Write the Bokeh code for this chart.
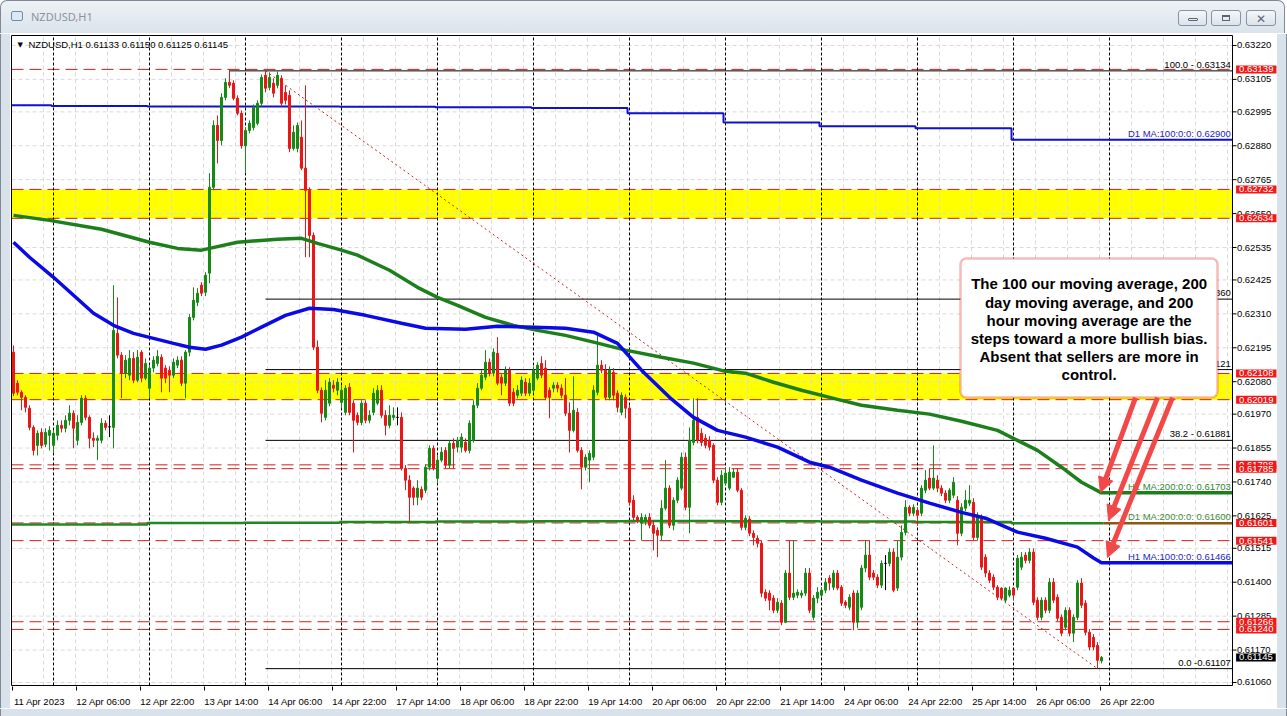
from bokeh.plotting import figure
from bokeh.models import (Range1d, FixedTicker, BoxAnnotation, Label, Arrow, NormalHead, Div)
from bokeh.layouts import column, row
from bokeh.core.properties import value
from bokeh.embed import file_html
from bokeh.resources import INLINE

PT = 1e-5  # prices below are stored in points (1e-5)

# ---------------- data (NZDUSD H1, 11 Apr 14:00 .. 26 Apr 22:00) ----------------
opens_pts = [
    62180, 62075, 62044, 62027, 61990, 61925, 61864, 61908, 61868, 61898,
    61864, 61898, 61932, 61922, 61949, 61973, 61881, 61942, 62024, 61959,
    61888, 61881, 61881, 61939, 61927, 61925, 62244, 62170, 62109, 62102,
    62159, 62085, 62180, 62092, 62058, 62126, 62142, 62163, 62126, 62119,
    62102, 62136, 62153, 62075, 62180, 62298, 62349, 62407, 62383, 62448,
    62739, 62949, 62898, 63044, 63095, 63092, 63041, 62990, 62880, 62932,
    62942, 62956, 63024, 63119, 63078, 63092, 63085, 63109, 63061, 63051,
    62871, 62871, 62909, 62804, 62729, 62576, 62197, 62051, 61959, 62007,
    62068, 62051, 62010, 61976, 62061, 62007, 61966, 61942, 62007, 61949,
    61976, 62007, 62051, 61966, 61932, 61959, 61959, 61959, 61786, 61746,
    61719, 61688, 61715, 61712, 61790, 61854, 61752, 61814, 61847, 61797,
    61871, 61858, 61858, 61874, 61847, 61881, 62000, 62058, 62095, 62146,
    62109, 62176, 62095, 62075, 62119, 62044, 62034, 62041, 62078, 62041,
    62051, 62092, 62142, 62126, 62051, 62058, 62068, 62058, 62034, 61973,
    61915, 61976, 61847, 61790, 61814, 61824, 62044, 62136, 62119, 62027,
    62112, 62041, 61976, 62027, 61990, 61678, 61620, 61600, 61610, 61620,
    61593, 61576, 61559, 61651, 61719, 61593, 61678, 61719, 61824, 61654,
    61874, 61959, 61905, 61888, 61881, 61864, 61746, 61671, 61736, 61719,
    61756, 61773, 61712, 61586, 61614, 61566, 61549, 61532, 61366, 61363,
    61346, 61305, 61329, 61264, 61431, 61349, 61356, 61356, 61363, 61431,
    61281, 61346, 61356, 61373, 61414, 61383, 61431, 61383, 61332, 61315,
    61363, 61264, 61315, 61448, 61492, 61431, 61417, 61390, 61464, 61464,
    61502, 61380, 61485, 61569, 61654, 61634, 61644, 61634, 61712, 61753,
    61719, 61746, 61719, 61702, 61678, 61695, 61678, 61566, 61651, 61668,
    61671, 61552, 61620, 61485, 61431, 61417, 61383, 61380, 61339, 61356,
    61380, 61383, 61451, 61492, 61474, 61502, 61339, 61281, 61339, 61305,
    61400, 61349, 61281, 61247, 61305, 61227, 61281, 61397, 61329, 61230,
    61213, 61186, 61133]

highs_pts = [
    62203, 62085, 62051, 62034, 62000, 61932, 61915, 61922, 61922, 61929,
    61915, 61949, 61949, 61966, 62000, 61983, 61966, 62034, 62034, 61966,
    61908, 61898, 61956, 61949, 61966, 62407, 62366, 62180, 62170, 62187,
    62180, 62187, 62187, 62159, 62136, 62166, 62187, 62173, 62136, 62132,
    62159, 62166, 62166, 62187, 62309, 62400, 62397, 62417, 62451, 62787,
    62966, 62983, 63058, 63109, 63139, 63102, 63051, 63000, 62942, 62966,
    63020, 63034, 63122, 63134, 63129, 63109, 63132, 63119, 63085, 63068,
    62949, 62959, 62966, 63085, 62739, 62586, 62220, 62061, 62085, 62092,
    62085, 62092, 62068, 62068, 62075, 62017, 61976, 62017, 62017, 61983,
    62058, 62068, 62068, 61983, 62000, 61993, 61993, 61976, 61797, 61763,
    61725, 61746, 61725, 61800, 61864, 61864, 61830, 61858, 61858, 61881,
    61888, 61892, 61905, 61888, 61949, 62017, 62075, 62119, 62187, 62159,
    62193, 62231, 62105, 62132, 62129, 62058, 62068, 62098, 62092, 62092,
    62132, 62146, 62166, 62153, 62061, 62078, 62078, 62071, 62092, 62010,
    62098, 61990, 61858, 61834, 61847, 62068, 62244, 62153, 62139, 62132,
    62126, 62051, 62044, 62037, 62000, 61695, 61627, 61634, 61630, 61634,
    61610, 61586, 61678, 61814, 61729, 61688, 61756, 61840, 61840, 61925,
    62024, 62024, 61922, 61902, 61895, 61871, 61756, 61780, 61790, 61790,
    61786, 61786, 61719, 61627, 61624, 61576, 61559, 61542, 61376, 61373,
    61356, 61346, 61339, 61441, 61542, 61542, 61376, 61373, 61448, 61448,
    61356, 61383, 61383, 61414, 61424, 61441, 61441, 61390, 61339, 61359,
    61373, 61373, 61458, 61542, 61542, 61441, 61427, 61474, 61492, 61515,
    61515, 61542, 61593, 61678, 61661, 61664, 61654, 61729, 61780, 61786,
    61864, 61763, 61729, 61712, 61719, 61756, 61692, 61668, 61712, 61729,
    61685, 61637, 61630, 61495, 61441, 61427, 61390, 61383, 61383, 61386,
    61383, 61492, 61502, 61502, 61515, 61515, 61349, 61349, 61349, 61414,
    61414, 61359, 61291, 61315, 61315, 61291, 61407, 61414, 61339, 61241,
    61224, 61197, 61150]

lows_pts = [
    62031, 62034, 61983, 61976, 61915, 61830, 61830, 61854, 61858, 61847,
    61837, 61881, 61908, 61908, 61932, 61854, 61864, 61932, 61949, 61854,
    61858, 61814, 61871, 61915, 61892, 61854, 62159, 62024, 62092, 62085,
    62075, 62078, 62078, 62085, 62024, 62112, 62132, 62044, 62075, 62044,
    62092, 62126, 62065, 62024, 62166, 62288, 62336, 62370, 62370, 62414,
    62729, 62820, 62881, 63034, 63075, 63034, 62983, 62870, 62790, 62922,
    62932, 62949, 63013, 63061, 63068, 63044, 63075, 63013, 63020, 62858,
    62864, 62858, 62797, 62502, 62502, 62187, 62041, 61942, 61949, 61997,
    62044, 62034, 61990, 61966, 61966, 61840, 61932, 61932, 61939, 61939,
    61966, 62000, 61956, 61898, 61922, 61949, 61932, 61779, 61712, 61603,
    61661, 61661, 61678, 61702, 61779, 61779, 61736, 61807, 61786, 61786,
    61786, 61840, 61840, 61840, 61837, 61874, 61990, 62051, 62085, 62098,
    62098, 62068, 62034, 62065, 61997, 61997, 62024, 62031, 62031, 62031,
    62041, 62085, 62092, 62017, 61956, 62044, 62044, 62024, 61963, 61840,
    61908, 61840, 61715, 61779, 61739, 61814, 62034, 62109, 62017, 62017,
    62017, 61976, 61966, 61956, 61661, 61610, 61600, 61542, 61593, 61583,
    61508, 61485, 61542, 61644, 61583, 61576, 61668, 61712, 61644, 61566,
    61864, 61871, 61861, 61854, 61847, 61736, 61661, 61661, 61729, 61712,
    61753, 61705, 61576, 61576, 61556, 61525, 61518, 61349, 61336, 61305,
    61295, 61295, 61254, 61264, 61339, 61339, 61346, 61346, 61353, 61295,
    61271, 61329, 61346, 61363, 61373, 61373, 61373, 61319, 61312, 61305,
    61237, 61244, 61305, 61434, 61407, 61407, 61380, 61380, 61373, 61454,
    61366, 61370, 61474, 61559, 61624, 61624, 61593, 61624, 61702, 61712,
    61712, 61705, 61692, 61668, 61668, 61685, 61525, 61556, 61641, 61658,
    61542, 61542, 61441, 61417, 61397, 61373, 61339, 61339, 61329, 61349,
    61339, 61373, 61441, 61464, 61464, 61322, 61271, 61271, 61295, 61295,
    61329, 61268, 61217, 61237, 61217, 61197, 61271, 61312, 61220, 61169,
    61169, 61107, 61125]

closes_pts = [
    62041, 62044, 62027, 61993, 61925, 61847, 61905, 61864, 61908, 61915,
    61905, 61932, 61922, 61949, 61973, 61922, 61942, 62024, 61959, 61888,
    61881, 61888, 61939, 61925, 61927, 62254, 62170, 62109, 62153, 62159,
    62085, 62163, 62092, 62142, 62126, 62153, 62166, 62092, 62092, 62102,
    62146, 62153, 62075, 62180, 62298, 62356, 62380, 62380, 62441, 62739,
    62949, 62898, 63044, 63095, 63085, 63041, 62990, 62880, 62932, 62956,
    63010, 63024, 63112, 63075, 63112, 63058, 63119, 63024, 63034, 62871,
    62926, 62949, 62804, 62729, 62576, 62197, 62051, 61973, 62051, 62078,
    62058, 62078, 62051, 62058, 61976, 61949, 61942, 62007, 61949, 61966,
    62041, 62051, 61966, 61932, 61966, 61966, 61959, 61786, 61746, 61688,
    61688, 61719, 61688, 61790, 61854, 61786, 61814, 61841, 61797, 61871,
    61854, 61881, 61892, 61847, 61939, 62000, 62058, 62102, 62146, 62109,
    62180, 62075, 62075, 62119, 62007, 62007, 62051, 62085, 62041, 62075,
    62119, 62136, 62102, 62027, 62027, 62068, 62058, 62034, 61973, 61915,
    61983, 61847, 61790, 61824, 61837, 62051, 62136, 62119, 62027, 62119,
    62034, 61993, 62034, 61990, 61671, 61620, 61610, 61620, 61620, 61593,
    61566, 61559, 61651, 61719, 61593, 61678, 61746, 61824, 61654, 61881,
    61949, 61881, 61874, 61864, 61858, 61746, 61671, 61763, 61770, 61773,
    61773, 61712, 61586, 61617, 61566, 61552, 61532, 61363, 61346, 61339,
    61305, 61332, 61264, 61431, 61349, 61363, 61366, 61363, 61431, 61305,
    61346, 61366, 61373, 61400, 61397, 61431, 61380, 61329, 61322, 61349,
    61264, 61363, 61448, 61492, 61417, 61417, 61390, 61464, 61464, 61502,
    61373, 61485, 61569, 61654, 61634, 61654, 61627, 61719, 61746, 61719,
    61753, 61719, 61702, 61678, 61712, 61739, 61566, 61654, 61678, 61678,
    61552, 61627, 61451, 61431, 61407, 61383, 61349, 61346, 61380, 61373,
    61356, 61481, 61485, 61474, 61502, 61332, 61281, 61339, 61305, 61400,
    61339, 61278, 61227, 61305, 61227, 61281, 61397, 61322, 61230, 61180,
    61180, 61135, 61145]

time_labels = ["11 Apr 2023", "12 Apr 06:00", "12 Apr 22:00", "13 Apr 14:00", "14 Apr 06:00",
               "14 Apr 22:00", "17 Apr 14:00", "18 Apr 06:00", "18 Apr 22:00", "19 Apr 14:00",
               "20 Apr 06:00", "20 Apr 22:00", "21 Apr 14:00", "24 Apr 06:00", "24 Apr 22:00",
               "25 Apr 14:00", "26 Apr 06:00", "26 Apr 22:00"]
BARS_PER_LABEL = 16

# first bar of each trading day; 274 = first bar of 27 Apr
day_start_bars = [0, 10, 34, 58, 82, 106, 130, 154, 178, 202, 226, 250]
next_day_bar = 274
d1_ma100 = [0.63017, 0.63015, 0.63013, 0.63013, 0.63012, 0.63011,
            0.63008, 0.62990, 0.62959, 0.62946, 0.62939, 0.62900]
d1_ma200 = [0.61596, 0.61596, 0.61601, 0.61602, 0.61604, 0.61606,
            0.61607, 0.61608, 0.61607, 0.61606, 0.61604, 0.61600]

h1_ma200_bars = [0, 9, 22, 34, 41, 47, 49, 56, 66, 72, 76, 82, 86, 94, 101, 106, 111, 118, 125, 131,
                 138, 145, 153, 162, 170, 178, 183, 190, 197, 206, 212, 221, 229, 237, 246, 251,
                 256, 262, 267, 272]
h1_ma200_pts = [62644, 62627, 62597, 62553, 62532, 62526, 62532, 62553, 62563, 62566, 62549, 62526,
                62509, 62458, 62400, 62366, 62339, 62298, 62271, 62254, 62237, 62214, 62187, 62163,
                62143, 62115, 62109, 62078, 62051, 62020, 62000, 61983, 61970, 61946, 61915, 61881,
                61847, 61790, 61739, 61703]
h1_ma100_bars = [0, 4, 10, 15, 20, 25, 30, 35, 40, 44, 48, 52, 57, 62, 68, 74, 80, 88, 97, 103,
                 113, 121, 130, 138, 145, 151, 157, 164, 170, 176, 183, 191, 199, 204, 212, 221,
                 229, 237, 243, 251, 258, 266, 270, 272]
h1_ma100_pts = [62553, 62502, 62434, 62373, 62312, 62271, 62244, 62227, 62210, 62197, 62190, 62204,
                62231, 62265, 62305, 62329, 62325, 62305, 62278, 62261, 62258, 62268, 62265, 62261,
                62248, 62210, 62119, 62027, 61959, 61915, 61892, 61858, 61807, 61790, 61746, 61702,
                61668, 61637, 61617, 61570, 61549, 61519, 61482, 61466]

price_ticks = [0.63220, 0.63105, 0.62995, 0.62880, 0.62765, 0.62650, 0.62535, 0.62425, 0.62310,
               0.62195, 0.62080, 0.61970, 0.61855, 0.61740, 0.61625, 0.61515, 0.61400, 0.61285,
               0.61170, 0.61060]
yellow_zones = [(0.62634, 0.62732), (0.62019, 0.62108)]
red_levels = [0.63139, 0.62732, 0.62634, 0.62108, 0.62019, 0.61798, 0.61785, 0.61601, 0.61541,
              0.61266, 0.61240]
last_price = 0.61145
fib_start_bar, fib_end_bar = 63, 271
fib_prices = [0.63134, 0.62360, 0.62121, 0.61881, 0.61107]
fib_line_start = [54, 63, 63, 63, 63]
fib_texts = ["100.0 - 0.63134", "61.8 - 0.62360", "50.0 - 0.62121", "38.2 - 0.61881", "0.0 -0.61107"]
header_text = "NZDUSD,H1  0.61133 0.61150 0.61125 0.61145"
note_lines = ["The 100 our moving average, 200", "day moving average, and 200",
              "hour moving average are the", "steps toward a more bullish bias.",
              "Absent that sellers are more in", "control."]

# ---------------- derived ----------------
opens = [v * PT for v in opens_pts]
closes = [v * PT for v in closes_pts]
highs = [max(h, o, c) * PT for h, o, c in zip(highs_pts, opens_pts, closes_pts)]
lows = [min(l, o, c) * PT for l, o, c in zip(lows_pts, opens_pts, closes_pts)]
n = min(len(opens), len(closes), len(highs), len(lows))
bars = list(range(n))
UP, DN = "#158a15", "#ee1515"
cols = [UP if closes[i] > opens[i] else (DN if closes[i] < opens[i] else "black") for i in bars]
tops = [max(opens[i], closes[i]) for i in bars]
bots = [min(opens[i], closes[i]) for i in bars]

# layout geometry (bar units horizontally, price vertically)
FXL, FXR = -0.75, 316.0              # whole drawing frame (chart + price scale)
FYB, FYT = 0.610464, 0.632573
CXL, CXR = -0.5, 304.75              # chart box
CYB, CYT = 0.610498, 0.632539
SMALL = "Liberation Sans"
SCALE_FS = "9.5px"

p = figure(frame_width=1267, frame_height=652, x_range=Range1d(FXL, FXR), y_range=Range1d(FYB, FYT),
           output_backend="svg", toolbar_location=None, y_axis_location=None,
           min_border_left=0, min_border_right=0, min_border_top=0, min_border_bottom=22)
p.margin = (0, 0, 0, 0)
p.background_fill_color = "white"
p.border_fill_color = "white"
p.outline_line_color = None
p.xgrid.visible = False
p.ygrid.visible = False

# bottom time axis
xa = p.xaxis[0]
label_ticks = [BARS_PER_LABEL * k + 6.5 for k in range(len(time_labels))]
xa.ticker = FixedTicker(ticks=label_ticks,
                        minor_ticks=[BARS_PER_LABEL * k - 0.25 for k in range(len(time_labels))])
xa.major_label_overrides = {t: s for t, s in zip(label_ticks, time_labels)}
xa.axis_line_color = None
xa.major_tick_in = 0
xa.major_tick_out = 0
xa.minor_tick_in = 0
xa.minor_tick_out = 4
xa.minor_tick_line_color = "black"
xa.major_label_standoff = 5
xa.major_label_text_font = SMALL
xa.major_label_text_font_size = "9.5px"
xa.major_label_text_color = "black"

# grid (light dashed)
vgrid = [8 * k - 0.5 for k in range(1, 39)]
p.segment(x0=vgrid, y0=CYB, x1=vgrid, y1=CYT, line_color="#dadada", line_dash="4 3", line_width=1)
p.segment(x0=CXL, y0=price_ticks, x1=CXR, y1=price_ticks, line_color="#dadada", line_dash="4 3",
          line_width=1)

# zones and horizontal levels
for lo, hi in yellow_zones:
    p.add_layout(BoxAnnotation(left=CXL, right=CXR, bottom=lo, top=hi, fill_color="#ffff00",
                               fill_alpha=1.0, line_color=None, level="underlay"))
p.segment(x0=CXL, y0=red_levels, x1=CXR, y1=red_levels, line_color="#d21e1e", line_dash="12 6",
          line_width=1)

# period separators
seps = day_start_bars[1:] + [next_day_bar]
p.segment(x0=seps, y0=CYB, x1=seps, y1=CYT, line_color="black", line_dash="3 2", line_width=1)

# fibonacci
p.segment(x0=fib_line_start, y0=fib_prices, x1=CXR, y1=fib_prices, line_color="black", line_width=1)
p.line([fib_start_bar, fib_end_bar], [fib_prices[0], fib_prices[-1]], line_color="#d02020",
       line_dash="2 3", line_width=1)

# daily moving averages (step lines)
def steps(values, end_x):
    xs, ys = [], []
    starts = day_start_bars
    for k, v in enumerate(values):
        x0 = starts[k] - 0.5 if k > 0 else CXL
        x1 = starts[k + 1] - 0.5 if k + 1 < len(starts) else end_x
        xs += [x0, x1]
        ys += [v, v]
    return xs, ys

xs, ys = steps(d1_ma100, CXR)
p.line(xs, ys, line_color="#1010d0", line_width=2)
xs, ys = steps(d1_ma200, n - 0.5)
p.line(xs, ys, line_color="#1f8a1f", line_width=2.5)
p.line([n - 0.5, CXR], [d1_ma200[-1], d1_ma200[-1]], line_color="#8a5a14", line_width=2.5)

# candles
p.segment(x0=bars, y0=lows, x1=bars, y1=highs, line_color=cols, line_width=1)
p.vbar(x=bars, width=0.5, top=tops, bottom=bots, fill_color=cols, line_color=cols, line_width=1)

# hourly moving averages
p.line(h1_ma200_bars + [CXR], [v * PT for v in h1_ma200_pts] + [h1_ma200_pts[-1] * PT],
       line_color="#1c7f1c", line_width=3.5)
p.line(h1_ma100_bars + [CXR], [v * PT for v in h1_ma100_pts] + [h1_ma100_pts[-1] * PT],
       line_color="#0a0ae6", line_width=3.5)

# chart box and price scale
p.quad(left=CXL, right=CXR, bottom=CYB, top=CYT, fill_color=None, line_color="black", line_width=1)
p.segment(x0=CXR, y0=price_ticks, x1=CXR + 1.0, y1=price_ticks, line_color="black", line_width=1)
p.text(x=CXR + 1.1, y=price_ticks, text=[f"{v:.5f}" for v in price_ticks], text_align="left",
       text_baseline="middle", text_font=value(SMALL), text_font_size=SCALE_FS,
       text_color="black")

# text on the chart
def lab(x, y, text, color="black", size="9.5px", align="right", baseline="bottom", font=SMALL,
        style="normal", yoff=0):
    p.add_layout(Label(x=x, y=y, text=text, text_color=color, text_font_size=size,
                       text_align=align, text_baseline=baseline, text_font=font,
                       text_font_style=style, y_offset=yoff))

for fp, ft in zip(fib_prices, fib_texts):
    lab(CXR - 0.4, fp, ft, yoff=1)
lab(CXR - 0.4, d1_ma100[-1], "D1 MA:100:0:0: 0.62900", color="#1c1cc8", yoff=1)
lab(CXR - 0.4, h1_ma200_pts[-1] * PT, "H1 MA:200:0:0: 0.61703", color="#2a8a2a", yoff=1)
lab(CXR - 0.4, d1_ma200[-1], "D1 MA:200:0:0: 0.61600", color="#3d8d3d", yoff=1)
lab(CXR - 0.4, h1_ma100_pts[-1] * PT, "H1 MA:100:0:0: 0.61466", color="#1c1cc8", yoff=1)

lab(3.75, 0.63223, header_text, align="left", baseline="middle")
lab(1.0, 0.63223, "\u25bc", align="left", baseline="middle", size="7px", font="DejaVu Sans")

# note box
p.add_layout(BoxAnnotation(left=236.75, right=301.0, top=0.62498, bottom=0.62026,
                           fill_color="white", fill_alpha=1.0, line_color="#e01e1e",
                           line_width=2.5, border_radius=6))
note_y = [0.62412, 0.62350, 0.62288, 0.62226, 0.62165, 0.62104]
for ty, tx in zip(note_y, note_lines):
    lab(268.9, ty, tx, align="center", baseline="middle", size="15px", style="bold")

# arrows
AC = "#f24848"
for (x0, y0, x1, y1) in [(280.5, 0.62026, 271.75, 0.61704),
                         (286.0, 0.62026, 273.75, 0.61609),
                         (289.75, 0.62026, 273.5, 0.61484)]:
    p.add_layout(Arrow(end=NormalHead(size=15, fill_color=AC, line_color=AC),
                       x_start=x0, y_start=y0, x_end=x1, y_end=y1,
                       line_color=AC, line_width=5))

# price tags on the scale
TAG_X = CXR + 0.9
for v in red_levels:
    p.add_layout(Label(x=TAG_X, y=v, text=f"{v:.5f}", text_color="white", text_font=SMALL,
                       text_font_size=SCALE_FS, text_align="left", text_baseline="middle",
                       background_fill_color="#f01818", padding=(3, 1)))
p.add_layout(Label(x=TAG_X, y=last_price, text=f"{last_price:.5f}", text_color="white",
                   text_font=SMALL, text_font_size=SCALE_FS, text_align="left",
                   text_baseline="middle", background_fill_color="black", padding=(3, 1)))

# ---------------- window chrome ----------------
FRAME = "#d9e1ea"
btn = ("position:absolute;top:9px;height:16px;border:1px solid #8793a2;border-radius:3px;"
       "background:linear-gradient(#f4f7fa,#dce3ea);")
title_html = (
    '<div style="position:relative;width:1285px;height:33px;overflow:hidden;'
    'border:1px solid #7f8a96;border-bottom:none;border-radius:7px 7px 0 0;'
    'background:linear-gradient(#eef2f6,#dbe3ec);font-family:\'Noto Sans\',sans-serif;">'
    '<div style="position:absolute;left:10px;top:10px;width:12px;height:10px;border:1px solid #6f8cae;'
    'background:#dbe8f6;border-radius:2px;"></div>'
    '<span style="position:absolute;left:30px;top:9px;font-size:11px;line-height:14px;'
    'color:#8a939d;">NZDUSD,H1</span>'
    f'<div style="{btn}left:1177px;width:29px;"><div style="position:absolute;left:9px;top:7px;'
    'width:10px;height:3px;border:1px solid #5c6673;border-radius:1px;"></div></div>'
    f'<div style="{btn}left:1210px;width:30px;"><div style="position:absolute;left:10px;top:4px;'
    'width:8px;height:6px;border:1px solid #5c6673;border-top-width:2px;"></div></div>'
    f'<div style="{btn}left:1245px;width:30px;text-align:center;font-size:12px;line-height:16px;'
    'color:#5c6673;font-family:\'DejaVu Sans\';">\u2715</div>'
    '</div>')
title_bar = Div(text=title_html, width=1287, height=34, margin=(0, 0, 0, 0))
left_strip = Div(text="", width=10, height=674, margin=(0, 0, 0, 0),
                 styles={"background": FRAME, "border-left": "1px solid #7f8a96",
                         "box-sizing": "border-box"})
right_strip = Div(text="", width=10, height=674, margin=(0, 0, 0, 0),
                  styles={"background": FRAME, "border-right": "1px solid #7f8a96",
                          "box-sizing": "border-box"})
bottom_strip = Div(text="", width=1287, height=8, margin=(0, 0, 0, 0),
                   styles={"background": FRAME, "border": "1px solid #7f8a96", "border-top": "none",
                           "box-sizing": "border-box"})

layout = column(title_bar, row(left_strip, p, right_strip, spacing=0), bottom_strip, spacing=0)
open("out.html", "w").write(file_html(layout, INLINE))
